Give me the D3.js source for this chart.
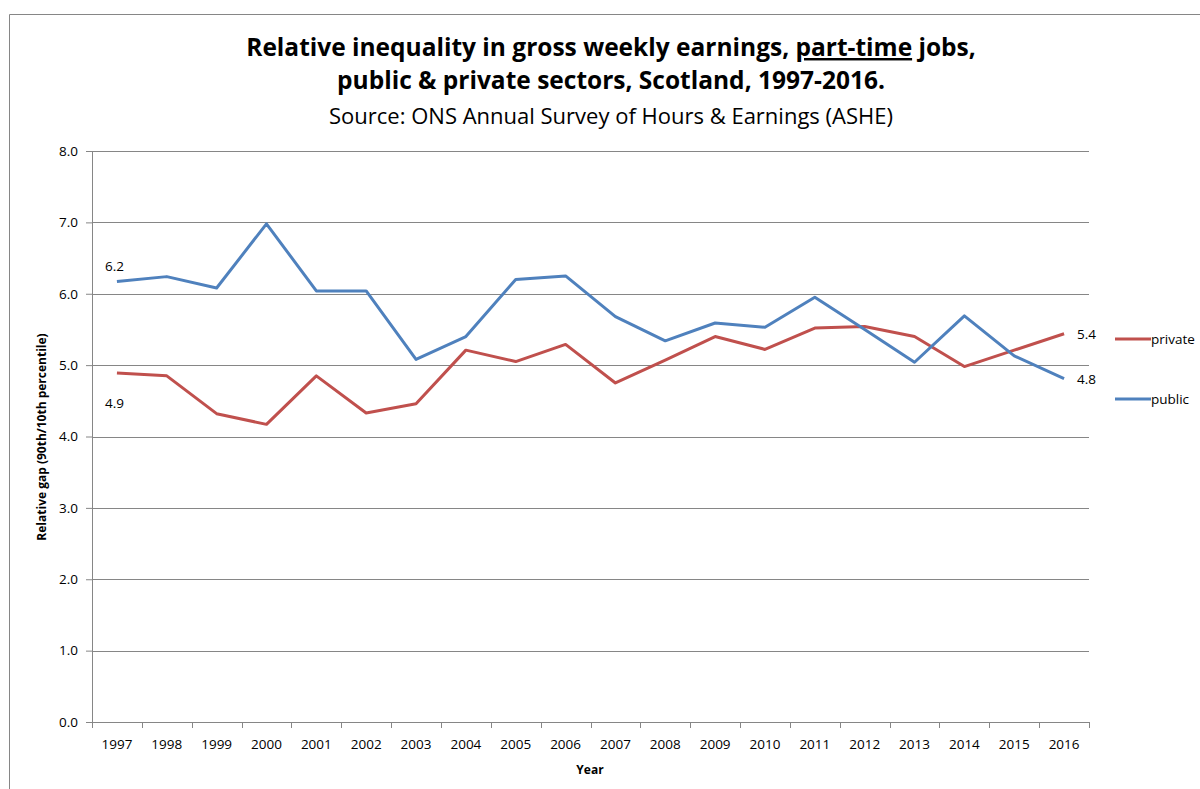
<!DOCTYPE html>
<html>
<head>
<meta charset="utf-8">
<script src="https://cdn.jsdelivr.net/npm/d3@7"></script>
<style>
  body { margin: 0; background: #fff; }
  text { font-family: "Open Sans", "Noto Sans", sans-serif; }
</style>
</head>
<body>
<div id="chart"></div>
<script>
var years = ["1997","1998","1999","2000","2001","2002","2003","2004","2005","2006",
             "2007","2008","2009","2010","2011","2012","2013","2014","2015","2016"];
var privateGap = [4.89,4.85,4.32,4.17,4.85,4.33,4.46,5.21,5.05,5.29,
                  4.75,5.07,5.40,5.22,5.52,5.54,5.40,4.98,5.21,5.44];
var publicGap = [6.17,6.24,6.08,6.98,6.04,6.04,5.08,5.40,6.20,6.25,
                 5.68,5.34,5.59,5.53,5.95,5.50,5.04,5.69,5.13,4.81];
var yTicks = [0,1,2,3,4,5,6,7,8];

var svgWidth = 1200, svgHeight = 789;
var margin = { top: 151, right: 111, bottom: 67, left: 92 };
var width = svgWidth - margin.left - margin.right;
var height = svgHeight - margin.top - margin.bottom;

var svg = d3.select("#chart").append("svg")
  .attr("width", svgWidth)
  .attr("height", svgHeight);

// outer chart frame
svg.append("path")
  .attr("d", "M9.5,789 L9.5,14.5 L1200,14.5")
  .attr("fill", "none")
  .attr("stroke", "#868686")
  .attr("stroke-width", 1);

// titles
var title1 = svg.append("text")
  .attr("x", 611).attr("y", 56)
  .attr("text-anchor", "middle")
  .style("font-weight", "bold").style("font-size", "24.5px");
title1.append("tspan").text("Relative inequality in gross weekly earnings, ");
title1.append("tspan").style("text-decoration", "underline").text("part-time");
title1.append("tspan").text(" jobs,");

svg.append("text")
  .attr("x", 611).attr("y", 89)
  .attr("text-anchor", "middle")
  .style("font-weight", "bold").style("font-size", "24.5px")
  .text("public & private sectors, Scotland, 1997-2016.");

svg.append("text")
  .attr("x", 611).attr("y", 124)
  .attr("text-anchor", "middle")
  .style("font-size", "22px")
  .text("Source: ONS Annual Survey of Hours & Earnings (ASHE)");

var g = svg.append("g")
  .attr("transform", `translate(${margin.left}, ${margin.top})`);

var xBand = d3.scaleBand().domain(years).range([0, width]);
var xScale = d => xBand(d) + xBand.bandwidth() / 2;
var yScale = d3.scaleLinear().domain([0, 8]).range([height, 0]);

// gridlines
g.selectAll(".grid").data(yTicks.slice(1)).enter()
  .append("line")
  .attr("x1", 0).attr("x2", width)
  .attr("y1", d => Math.round(yScale(d)) + 0.5)
  .attr("y2", d => Math.round(yScale(d)) + 0.5)
  .attr("stroke", "#868686").attr("stroke-width", 1);

// y axis
var yAxis = g.append("g")
  .call(d3.axisLeft(yScale).tickValues(yTicks).tickFormat(d3.format(".1f")).tickSize(6).tickSizeOuter(0));
yAxis.select(".domain").attr("stroke", "#868686");
yAxis.selectAll(".tick line").attr("stroke", "#868686");
yAxis.selectAll(".tick text").attr("x", -14).style("font-size", "13.5px").attr("fill", "#000")
  .style("font-family", "'Open Sans', sans-serif");

// x axis
var xAxis = g.append("g")
  .attr("transform", `translate(0, ${height})`)
  .call(d3.axisBottom(xBand).tickSize(0).tickSizeOuter(0));
xAxis.select(".domain").attr("stroke", "#868686");
xAxis.selectAll(".tick text").attr("y", 17).style("font-size", "13.5px").attr("fill", "#000")
  .style("font-family", "'Open Sans', sans-serif");
// tick marks at band boundaries
g.selectAll(".xtick").data(years.concat(["end"])).enter()
  .append("line")
  .attr("x1", (d, i) => Math.round(i * xBand.step()) + 0.5)
  .attr("x2", (d, i) => Math.round(i * xBand.step()) + 0.5)
  .attr("y1", height).attr("y2", height + 6)
  .attr("stroke", "#868686");

// axis titles
svg.append("text")
  .attr("transform", "translate(46, 437) rotate(-90)")
  .attr("text-anchor", "middle")
  .style("font-weight", "bold").style("font-size", "12px")
  .text("Relative gap (90th/10th percentile)");

svg.append("text")
  .attr("x", 590).attr("y", 774)
  .attr("text-anchor", "middle")
  .style("font-weight", "bold").style("font-size", "12px")
  .text("Year");

// lines
var series = [
  { name: "private", values: privateGap, color: "#c0504d" },
  { name: "public", values: publicGap, color: "#4f81bd" }
];

var line = d3.line()
  .x((d, i) => xScale(years[i]))
  .y(d => yScale(d));

series.forEach(function(s) {
  g.append("path")
    .datum(s.values)
    .attr("fill", "none")
    .attr("stroke", s.color)
    .attr("stroke-width", 3)
    .attr("stroke-linejoin", "round")
    .attr("d", line);
});

// data labels
var last = years.length - 1;
var labelStyle = function(sel) {
  return sel.style("font-size", "13.5px").attr("fill", "#000");
};
labelStyle(g.append("text")
  .attr("x", xScale(years[0]) - 12).attr("y", yScale(publicGap[0]) - 11)
  .text(publicGap[0].toFixed(1)));
labelStyle(g.append("text")
  .attr("x", xScale(years[0]) - 12).attr("y", yScale(privateGap[0]) + 35)
  .text(privateGap[0].toFixed(1)));
labelStyle(g.append("text")
  .attr("x", xScale(years[last]) + 13).attr("y", yScale(privateGap[last]) + 5)
  .text(privateGap[last].toFixed(1)));
labelStyle(g.append("text")
  .attr("x", xScale(years[last]) + 13).attr("y", yScale(publicGap[last]) + 5)
  .text(publicGap[last].toFixed(1)));

// legend
var legend = svg.append("g").attr("transform", "translate(1115, 339)");
series.forEach(function(s, i) {
  var row = legend.append("g").attr("transform", `translate(0, ${i * 60})`);
  row.append("line")
    .attr("x1", 0).attr("x2", 36)
    .attr("y1", 0).attr("y2", 0)
    .attr("stroke", s.color).attr("stroke-width", 3);
  row.append("text")
    .attr("x", 36).attr("y", 5)
    .style("font-size", "13.5px")
    .text(s.name);
});
</script>
</body>
</html>
